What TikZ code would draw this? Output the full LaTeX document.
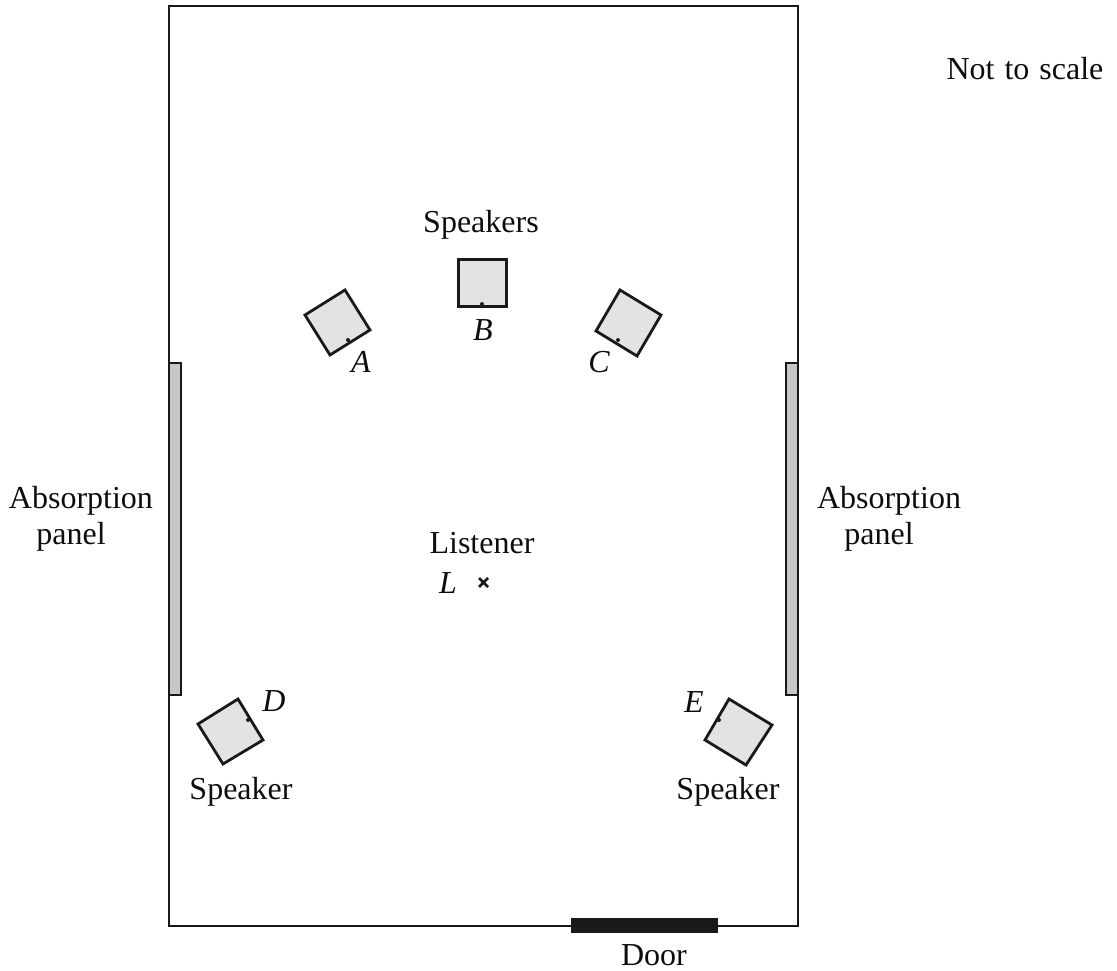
\documentclass[tikz,border=0pt]{standalone}
\usepackage{fontspec}
\setmainfont{Liberation Serif}
\tikzset{
  wall/.style={draw=black!90,line width=2.2pt},
  panel/.style={draw=black!90,fill=black!22,line width=1.2pt},
  spk/.style={draw=black!90,fill=black!11,line width=2.8pt,line join=miter},
  lab/.style={font=\fontsize{32}{36}\selectfont,inner sep=0pt,align=center,text=black!95,anchor=base},
  ital/.style={font=\fontsize{32}{36}\selectfont\itshape,inner sep=0pt,text=black!95,anchor=base},
  dotm/.style={fill=black!90,circle,inner sep=0pt,minimum size=4pt}
}
\begin{document}
\begin{tikzpicture}[x=1pt,y=-1pt]
\useasboundingbox (0,0) rectangle (1117,971);
\draw[wall] (169,6) rectangle (798,926);
\draw[panel] (169.5,363) rectangle (181,695);
\draw[panel] (786,363) rectangle (797.5,695);
\fill[black!90] (571,918) rectangle (718,933);
% speakers
\draw[spk] (345,290) -- (370,330) -- (330,355) -- (305,315) -- cycle;
\draw[spk] (458.5,259.5) rectangle (506.5,306.5);
\draw[spk] (620,290) -- (661,315) -- (637,356) -- (596,331) -- cycle;
\draw[spk] (238,699) -- (263,740) -- (223,764) -- (198,724) -- cycle;
\draw[spk] (729,699) -- (772,725) -- (746,765) -- (705,740) -- cycle;
\node[dotm] (da) at (348,340) {};
\node[dotm] (db) at (482,304) {};
\node[dotm] (dc) at (618,340) {};
\node[dotm] (dd) at (248,720) {};
\node[dotm] (de) at (719,720) {};
% listener mark
\draw[line width=2.6pt,black!90] (479,578) -- (488,587) (488,578) -- (479,587);
% labels
\node[lab] (nts) at (1025,80) {Not\hspace{2pt} to\hspace{2pt} scale};
\node[lab] (spks) at (481,232) {Speakers};
\node[ital] (A) at (361,372) {A};
\node[ital] (B) at (483,340) {B};
\node[ital] (C) at (599,372) {C};
\node[ital] (D) at (274,711) {D};
\node[ital] (E) at (694,712) {E};
\node[lab] (pl1) at (81,508) {Absorption};
\node[lab] (pl2) at (71,544) {panel};
\node[lab] (pr1) at (889,508) {Absorption};
\node[lab] (pr2) at (879,544) {panel};
\node[lab] (li) at (482,553) {Listener};
\node[ital] (L) at (448,593) {L};
\node[lab] (s1) at (241,799) {Speaker};
\node[lab] (s2) at (728,799) {Speaker};
\node[lab] (door) at (654,965) {Door};
\end{tikzpicture}
\end{document}
